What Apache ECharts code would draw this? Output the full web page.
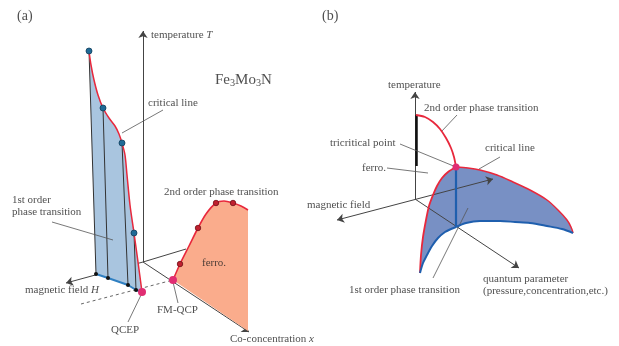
<!DOCTYPE html>
<html><head><meta charset="utf-8">
<script src="https://cdn.jsdelivr.net/npm/echarts@6/dist/echarts.min.js"></script>
<style>html,body{margin:0;padding:0;background:#fff}#c{width:619px;height:346px}</style>
</head><body><div id="c"></div>
<script>
// ---------- Panel (a) : schematic coordinates ----------
const critLineA = [[89,51],[91,65],[94,80],[98,95],[103,108],[109,118],[115,126],[119,134],[122,143],[125,155],[127,175],[130,205],[134,233],[138,262],[142,292]];
const planeBaseA = [[142,292],[136,290],[128,285],[108,278],[96,274]];
const baseDotsA = [[96,274],[108,278],[128,285],[136,290]];
const critDotsA = [[89,51],[103,108],[122,143],[134,233]];
const innerLinesA = [[[108,278],[103,108]],[[128,285],[122,143]],[[136,290],[134,233]],[[96,274],[89,51]]];
const ferroCurveA = [[173,280],[180,264],[189,246],[198,228],[206,214],[216,203],[224,201],[233,203],[241,206],[248,210]];
const ferroCornerA = [[248,331]];
const ferroDotsA = [[180,264],[198,228],[216,203],[233,203]];
const qcpDotsA = [[142,292],[173,280]];
const axisTA = [[143,262],[143,31]];
const axisHA = [[143,262],[66,283]];
const axisXA = [[143,262],[249,332]];
const planeEdgeA = [[143,262],[186,249]];
const dashedA = [[81,304],[173,280]];
const leadersA = [[[122,133],[163,110]],[[52,222],[113,240]],[[142,293],[128,322]],[[173,282],[178,303]]];
const textsA = [
  [151,35,'temperature {i|T}'],
  [148,103,'critical line'],
  [164,192,'2nd order phase transition'],
  [12,200,'1st order'],
  [12,212,'phase transition'],
  [202,263,'ferro.'],
  [25,290,'magnetic field {i|H}'],
  [157,310,'FM-QCP'],
  [111,330,'QCEP'],
  [230,339,'Co-concentration {i|x}']
];
const formulaA = [[215,80,'Fe{s|3}Mo{s|3}N']];
const panelLetters = [[17,16,'(a)'],[322,16,'(b)']];

// ---------- Panel (b) ----------
const axisTB = [[415,199],[415,92]];
const axisFieldB = [[493,179],[337,220]];
const axisQB = [[415,199],[519,268]];
const thickBarB = [[416,115],[416,166]];
const secondOrderB = [[416,115],[425,117],[433,122],[440,129],[446,138],[451,148],[454,157],[456,167]];
const critLineB = [[456,167],[468,168],[480,170],[497,175],[513,182],[530,190],[547,200],[558,210],[567,220],[571,227],[573,233]];
const bottomEdgeB = [[573,233],[562,229],[547,226],[530,223],[515,222],[500,221],[480,221],[466,223],[456,227]];
const leftRedB = [[456,167],[448,172],[442,178],[437,186],[433,195],[429,206],[426,220],[423,237],[421,255],[420,273]];
const leftBlueB = [[420,273],[423,263],[427,255],[432,246],[438,238],[445,232],[451,229],[456,227]];
const verticalB = [[456,167],[456,227]];
const tricriticalB = [[456,167]];
const leadersB = [[[441,132],[457,115]],[[400,144],[456,167]],[[387,168],[428,173]],[[479,169],[500,157]],[[433,278],[468,208]]];
const textsB = [
  [388,85,'temperature'],
  [424,108,'2nd order phase transition'],
  [330,143,'tricritical point'],
  [485,148,'critical line'],
  [362,168,'ferro.'],
  [307,205,'magnetic field'],
  [483,279,'quantum parameter'],
  [483,291,'(pressure,concentration,etc.)'],
  [349,290,'1st order phase transition']
];

// ---------- builders ----------
const FONT = '"Liberation Serif", "DejaVu Serif", serif';
const RED = '#e8283c', AX = '#444', LEAD = '#555';

function poly(pts, fill, z) {
  return {type:'custom', coordinateSystem:'cartesian2d', z, silent:true, clip:false,
    data:[[pts[0][0], pts[0][1]]],
    renderItem:(params, api) => ({type:'polygon', shape:{points: pts.map(p => api.coord(p))}, style:{fill}})};
}
function curve(pts, color, width, z, smooth) {
  return {type:'line', data:pts, showSymbol:false, smooth: smooth === undefined ? 0.3 : smooth, z, silent:true,
    lineStyle:{color, width}, clip:false};
}
function segs(list, color, width, z, symbol, type) {
  return {type:'lines', coordinateSystem:'cartesian2d', z, silent:true,
    symbol: symbol || ['none','none'], symbolSize: 7,
    lineStyle:{color, width, type: type || 'solid', opacity:1},
    data: list.map(c => ({coords:c}))};
}
function dots(pts, color, size, z, border) {
  return {type:'scatter', data:pts, symbolSize:size, z, silent:true,
    itemStyle:{color, borderColor: border || color, borderWidth: border ? 0.8 : 0, opacity:1}};
}
function texts(list, size, z) {
  return {type:'scatter', z, silent:true, symbolSize:1, itemStyle:{color:'rgba(0,0,0,0)'},
    data: list.map(t => ({value:[t[0], t[1]], name:t[2]})),
    label:{show:true, position:'inside', align:'left', verticalAlign:'middle',
      formatter: p => p.name, color:'#222', fontFamily:FONT, fontSize:size,
      rich:{
        i:{fontStyle:'italic', fontFamily:FONT, fontSize:size, color:'#222'},
        s:{fontFamily:FONT, fontSize:size*0.68, color:'#222', padding:[size*0.45,0,0,0]}
      }}};
}

const planeA = critLineA.concat(planeBaseA);
const ferroA = ferroCurveA.concat(ferroCornerA);
const surfB = leftRedB.slice().reverse().concat(critLineB.slice(1), bottomEdgeB.slice(1), leftBlueB.slice().reverse().slice(1));

const chart = echarts.init(document.getElementById('c'), null, {renderer:'canvas'});
chart.setOption({
  animation:false,
  backgroundColor:'#fff',
  grid:{left:0, right:0, top:0, bottom:0, containLabel:false},
  xAxis:{type:'value', min:0, max:619, show:false},
  yAxis:{type:'value', min:0, max:346, inverse:true, show:false},
  series:[
    segs([axisHA], AX, 1, 1, ['none','arrow']),
    segs([axisXA], AX, 1, 1, ['none','arrow']),
    segs([planeEdgeA], AX, 1, 1),
    segs([dashedA], '#666', 1, 1, null, [3,3]),
    segs([axisTA], AX, 1, 1, ['none','arrow']),
    poly(planeA, '#a9c5df', 2),
    poly(ferroA, '#faac8c', 2),
    poly(surfB, 'rgba(96,124,186,0.85)', 2),
    segs(innerLinesA, '#333', 1, 3),
    curve(planeBaseA, '#2f7fc1', 2, 3, 0),
    curve(critLineA, RED, 1.5, 3),
    curve(ferroCurveA, RED, 1.6, 3),
    segs(leadersA, LEAD, 0.8, 3),
    segs([axisTB], AX, 1, 3, ['none','arrow']),
    segs([axisFieldB], AX, 1, 3, ['arrow','arrow']),
    segs([axisQB], AX, 1, 3, ['none','arrow']),
    segs([thickBarB], '#111', 2.5, 3),
    curve(secondOrderB, RED, 1.8, 3),
    curve(critLineB, RED, 1.5, 3),
    curve(leftRedB, RED, 1.8, 3),
    curve(bottomEdgeB, '#1f5fae', 2, 3),
    curve(leftBlueB, '#1f5fae', 2, 3),
    segs([verticalB], '#1f5fae', 2.2, 3),
    segs(leadersB, LEAD, 0.8, 3),
    dots(baseDotsA, '#111', 4, 4),
    dots(critDotsA, '#1f6a96', 6, 4, '#123e5c'),
    dots(ferroDotsA, '#c0202f', 5.5, 4, '#701018'),
    dots(qcpDotsA, '#e02d72', 8, 4),
    dots(tricriticalB, '#e02d72', 7, 4),
    texts(textsA, 11, 5),
    texts(textsB, 11, 5),
    texts(formulaA, 15, 5),
    texts(panelLetters, 14, 5)
  ]
});
</script>
</body></html>
